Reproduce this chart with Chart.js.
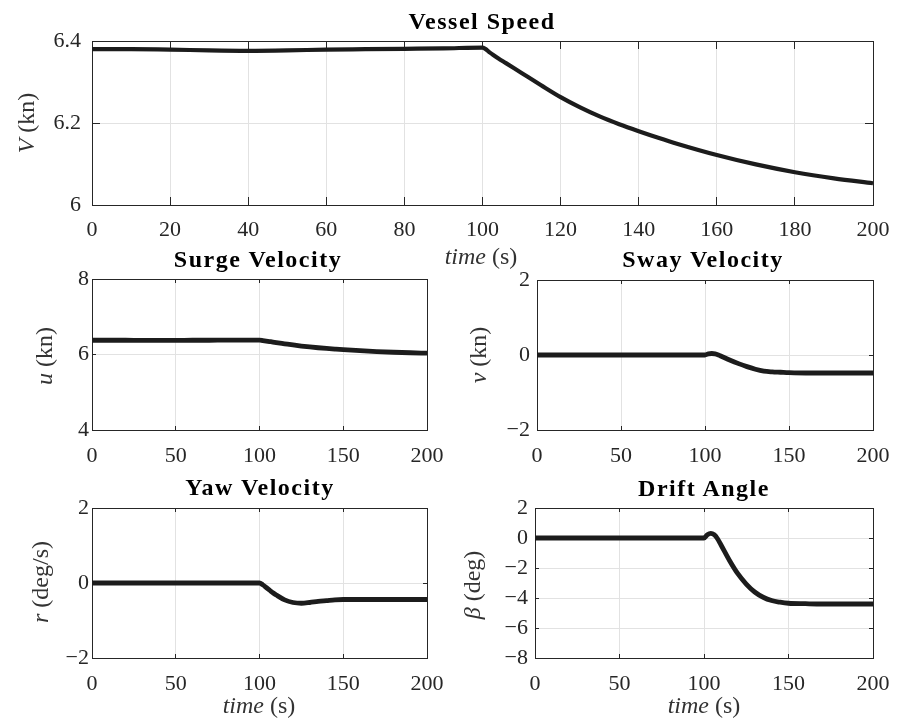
<!DOCTYPE html>
<html><head><meta charset="utf-8">
<script src="https://cdn.jsdelivr.net/npm/chart.js@4.4.0/dist/chart.umd.min.js"></script>
<style>
html,body{margin:0;padding:0;background:#fff;}
#wrap{position:relative;width:897px;height:725px;overflow:hidden;background:#fff;}
canvas{position:absolute;}
.t{position:absolute;transform:translate(-50%,-50%);white-space:nowrap;line-height:1;font-family:"Liberation Serif",serif;z-index:2;}
.title{font-weight:bold;font-size:24px;color:#000;letter-spacing:1.5px;}
.lab{font-size:24px;color:#333;}
.ylab{transform:translate(-50%,-50%) rotate(-90deg);}
.t i{font-style:italic;}
</style></head><body>
<div id="wrap">
<canvas id="cV"></canvas>
<canvas id="cU"></canvas>
<canvas id="cSway"></canvas>
<canvas id="cYaw"></canvas>
<canvas id="cDrift"></canvas>

<div class="t title" style="left:482px;top:21px">Vessel Speed</div>
<div class="t title" style="left:258px;top:259px">Surge Velocity</div>
<div class="t title" style="left:703px;top:259px">Sway Velocity</div>
<div class="t title" style="left:260px;top:487px">Yaw Velocity</div>
<div class="t title" style="left:704px;top:488px">Drift Angle</div>

<div class="t lab ylab" style="left:26px;top:123px"><i>V</i> (kn)</div>
<div class="t lab ylab" style="left:44px;top:356px"><i>u</i> (kn)</div>
<div class="t lab ylab" style="left:478px;top:355px"><i>v</i> (kn)</div>
<div class="t lab ylab" style="left:40px;top:582px"><i>r</i> (deg/s)</div>
<div class="t lab ylab" style="left:472px;top:585px"><i>β</i> (deg)</div>

<div class="t lab" style="left:481px;top:256px"><i>time</i> (s)</div>
<div class="t lab" style="left:259px;top:705px"><i>time</i> (s)</div>
<div class="t lab" style="left:704px;top:705px"><i>time</i> (s)</div>
</div>
<script>
// ---- data ----
const time = [0,10,20,30,40,50,60,70,80,90,100,102,104,106,108,110,115,120,125,130,135,140,145,150,160,170,180,190,200];
const speedV = [6.380,6.380,6.379,6.377,6.376,6.377,6.379,6.380,6.381,6.382,6.384,6.371,6.358,6.346,6.334,6.322,6.292,6.263,6.238,6.216,6.197,6.180,6.164,6.149,6.122,6.099,6.080,6.065,6.053];
const surgeU = [6.378,6.378,6.377,6.375,6.374,6.375,6.377,6.378,6.379,6.380,6.382,6.369,6.356,6.343,6.330,6.316,6.284,6.252,6.224,6.200,6.179,6.160,6.143,6.127,6.100,6.078,6.060,6.046,6.035];
const swayV = [0,0,0,0,0,0,0,0,0,0,0,0.03,0.04,0.03,0.0,-0.04,-0.14,-0.23,-0.31,-0.38,-0.43,-0.45,-0.46,-0.47,-0.48,-0.48,-0.48,-0.48,-0.48];
const yawR = [0,0,0,0,0,0,0,0,0,0,0,-0.05,-0.12,-0.19,-0.26,-0.32,-0.45,-0.52,-0.54,-0.52,-0.49,-0.47,-0.45,-0.44,-0.44,-0.44,-0.44,-0.44,-0.44];
const driftBeta = [0,0,0,0,0,0,0,0,0,0,0,0.22,0.31,0.22,-0.05,-0.45,-1.48,-2.38,-3.07,-3.60,-3.95,-4.17,-4.28,-4.35,-4.38,-4.40,-4.40,-4.40,-4.40];

const xTicksTop = [0,20,40,60,80,100,120,140,160,180,200];
const xTicksSmall = [0,50,100,150,200];
const yTicksV = [6, 6.2, 6.4];
const yTicksU = [4, 6, 8];
const yTicksSway = [-2, 0, 2];
const yTicksYaw = [-2, 0, 2];
const yTicksDrift = [-8, -6, -4, -2, 0, 2];

// ---- styling / layout ----
const AX = '#262626';
const GRID = '#e2e2e2';
const LINE = '#1c1c1c';
const tickFont = {family: '"Liberation Serif", serif', size: 22};
const PAD_T = 40, PAD_R = 44, Y_W = 70, X_H = 38;

function fmt(v) { return v < 0 ? '\u2212' + Math.abs(v) : String(v); }

function makeChart(id, box, values, xTicks, yTicks, tl, yGap, xGap, lw) {
  const [L, T, R, B] = box;
  const cv = document.getElementById(id);
  const w = (R - L) + Y_W + PAD_R, h = (B - T) + PAD_T + X_H;
  cv.width = w; cv.height = h;
  cv.style.left = (L - Y_W) + 'px'; cv.style.top = (T - PAD_T) + 'px';
  cv.style.width = w + 'px'; cv.style.height = h + 'px';

  const setTicks = arr => s => { s.ticks = arr.map(v => ({value: v})); };
  const pts = time.map((t, i) => ({x: t, y: values[i]}));
  const yMin = yTicks[0], yMax = yTicks[yTicks.length - 1];
  return new Chart(cv, {
    type: 'line',
    data: {datasets: [{data: pts, borderColor: LINE, borderWidth: lw, pointRadius: 0,
      cubicInterpolationMode: 'monotone', fill: false, xAxisID: 'x', yAxisID: 'y'}]},
    options: {
      responsive: false, animation: false, events: [], devicePixelRatio: 1,
      layout: {padding: {top: PAD_T, right: PAD_R, left: 0, bottom: 0}},
      plugins: {legend: {display: false}, tooltip: {enabled: false}, title: {display: false}},
      scales: {
        x: {type: 'linear', position: 'bottom', min: 0, max: 200,
          afterBuildTicks: setTicks(xTicks), afterFit: s => { s.height = X_H; },
          grid: {color: GRID, lineWidth: 1, drawTicks: true, tickLength: -tl, tickColor: AX, tickWidth: 1},
          border: {display: true, color: AX, width: 1},
          ticks: {font: tickFont, color: AX, padding: xGap + tl, maxRotation: 0, autoSkip: false, callback: fmt}},
        x2: {type: 'linear', position: 'top', min: 0, max: 200,
          afterBuildTicks: setTicks(xTicks), afterFit: s => { s.height = 0; },
          grid: {drawOnChartArea: false, drawTicks: true, tickLength: -tl, tickColor: AX, tickWidth: 1},
          border: {display: true, color: AX, width: 1},
          ticks: {display: false}},
        y: {type: 'linear', position: 'left', min: yMin, max: yMax,
          afterBuildTicks: setTicks(yTicks), afterFit: s => { s.width = Y_W; },
          grid: {color: GRID, lineWidth: 1, drawTicks: true, tickLength: -tl, tickColor: AX, tickWidth: 1},
          border: {display: true, color: AX, width: 1},
          ticks: {font: tickFont, color: AX, padding: yGap + tl, autoSkip: false, callback: fmt}},
        y2: {type: 'linear', position: 'right', min: yMin, max: yMax,
          afterBuildTicks: setTicks(yTicks), afterFit: s => { s.width = 0; },
          grid: {drawOnChartArea: false, drawTicks: true, tickLength: -tl, tickColor: AX, tickWidth: 1},
          border: {display: true, color: AX, width: 1},
          ticks: {display: false}}
      }
    }
  });
}

makeChart('cV',     [92, 41, 873, 205],  speedV,    xTicksTop,   yTicksV,     8, 11, 12, 4.2);
makeChart('cU',     [92, 279, 427, 430], surgeU,    xTicksSmall, yTicksU,     4, 3, 13, 4.8);
makeChart('cSway',  [537, 280, 873, 430], swayV,    xTicksSmall, yTicksSway,  4, 7, 13, 4.8);
makeChart('cYaw',   [92, 508, 427, 658], yawR,      xTicksSmall, yTicksYaw,   4, 3, 13, 4.8);
makeChart('cDrift', [535, 508, 873, 658], driftBeta, xTicksSmall, yTicksDrift, 4, 7, 13, 4.8);
</script>
</body></html>
